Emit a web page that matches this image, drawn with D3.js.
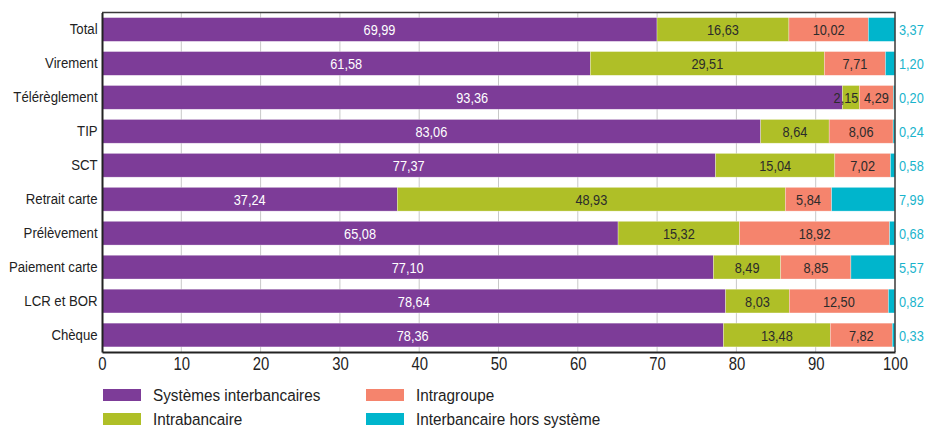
<!DOCTYPE html>
<html><head><meta charset="utf-8">
<script src="https://cdn.jsdelivr.net/npm/d3@7"></script>
<style>
body{margin:0;background:#fff;}
text{font-family:"Liberation Sans",Arial,sans-serif;}
</style></head>
<body><svg id="c" width="928" height="428"></svg>
<script>
const categories = ["Total","Virement","Télérèglement","TIP","SCT","Retrait carte","Prélèvement","Paiement carte","LCR et BOR","Chèque"];
const seriesNames = ["Systèmes interbancaires","Intrabancaire","Intragroupe","Interbancaire hors système"];
const interbancaires = [69.99,61.58,93.36,83.06,77.37,37.24,65.08,77.10,78.64,78.36];
const intrabancaire = [16.63,29.51,2.15,8.64,15.04,48.93,15.32,8.49,8.03,13.48];
const intragroupe = [10.02,7.71,4.29,8.06,7.02,5.84,18.92,8.85,12.50,7.82];
const horsSysteme = [3.37,1.20,0.20,0.24,0.58,7.99,0.68,5.57,0.82,0.33];
const xTicks = [0,10,20,30,40,50,60,70,80,90,100];
const colors = ["#7d3c98","#afbf27","#f5846d","#00b5cc"];

const svg = d3.select("#c");
const pLeft=102, pRight=895, pTop=12.5, pBottom=352;
const SX = 0.85; // condensed look
const x = d3.scaleLinear().domain([0,100]).range([pLeft,pRight]);
const y = d3.scaleBand().domain(categories).range([pTop,pBottom]).paddingInner(0.3).paddingOuter(0.15);
const fmt = v => d3.format(".2f")(v).replace(".",",");

const data = categories.map((c,i)=>({cat:c, s0:interbancaires[i], s1:intrabancaire[i], s2:intragroupe[i], s3:horsSysteme[i]}));
const stack = d3.stack().keys(["s0","s1","s2","s3"])(data);

function label(parent, tx, ty, str, size, fill, anchor, sx){
  return parent.append("text")
    .attr("transform",`translate(${tx},${ty}) scale(${sx||SX},1)`)
    .attr("dy","0.35em").attr("text-anchor",anchor||"middle")
    .attr("font-size",size).attr("fill",fill).text(str);
}

// grid
svg.append("g").selectAll("line").data(xTicks.slice(1,-1)).join("line")
  .attr("x1",d=>x(d)).attr("x2",d=>x(d)).attr("y1",pTop).attr("y2",pBottom)
  .attr("stroke","#c8c8c8").attr("stroke-width",1);

// bars
const g = svg.append("g");
stack.forEach((layer,k)=>{
  g.append("g").selectAll("rect").data(layer).join("rect")
    .attr("x",d=>x(d[0])).attr("width",d=>x(d[1])-x(d[0]))
    .attr("y",d=>y(d.data.cat)).attr("height",y.bandwidth())
    .attr("fill",colors[k]).attr("stroke","#ffffff").attr("stroke-width",0.6).attr("stroke-opacity",0.5);
});
// labels inside
const lab = svg.append("g");
stack.slice(0,3).forEach((layer,k)=>{
  layer.forEach(d=>{
    const cy = y(d.data.cat)+y.bandwidth()/2+0.5;
    const t = label(lab,(x(d[0])+x(d[1]))/2, cy, fmt(d[1]-d[0]), 15, k===0?"#ffffff":"#2b2b2b","middle");
    const w = t.node().getBBox().width*SX;
    if (w > x(d[1])-x(d[0])) {
      t.attr("text-anchor","end").attr("transform",`translate(${x(d[1])-1},${cy}) scale(${SX},1)`);
    }
  });
});
// outside labels
stack[3].forEach(d=>{
  label(lab, pRight+4, y(d.data.cat)+y.bandwidth()/2+0.5, fmt(d[1]-d[0]), 15, "#1ab4cc","start");
});

// frame
svg.append("path").attr("d",`M${pLeft},${pTop}H${pRight}V${pBottom}`).attr("fill","none").attr("stroke","#3a3a3a").attr("stroke-width",1.5);

// axes
const xa = svg.append("g").attr("transform",`translate(0,${pBottom})`)
  .call(d3.axisBottom(x).tickValues(xTicks).tickSize(0).tickPadding(6));
xa.select(".domain").attr("stroke","#222").attr("stroke-width",2);
xa.selectAll("text").attr("font-size",17.5).attr("fill","#222").attr("transform",`scale(${SX},1)`);

const ya = svg.append("g").attr("transform",`translate(${pLeft},0)`)
  .call(d3.axisLeft(y).tickSize(0).tickPadding(5));
ya.select(".domain").attr("stroke","#222").attr("stroke-width",2);
ya.selectAll("text").attr("font-size",15).attr("fill","#222").attr("transform",`scale(0.88,1)`);

// legend
const legPos = [[103,389],[103,413],[366,389],[366,413]];
const lg = svg.append("g");
seriesNames.forEach((n,i)=>{
  lg.append("rect").attr("x",legPos[i][0]).attr("y",legPos[i][1]).attr("width",38).attr("height",12).attr("fill",colors[i]);
  label(lg, legPos[i][0]+50, legPos[i][1]+6.5, n, 17, "#222", "start", 0.9);
});
</script></body></html>
